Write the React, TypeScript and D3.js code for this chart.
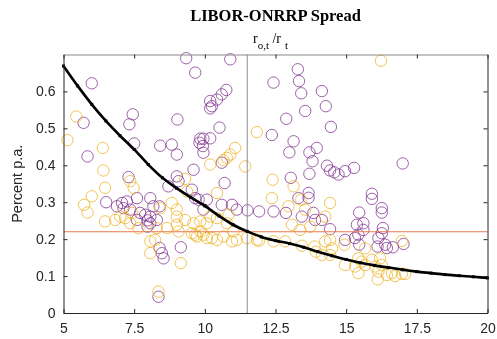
import React, { useEffect, useRef } from "react";
import * as d3 from "d3";

// purple series (x = r_o,t / r_t, y = spread in percent p.a.)
const purpleX = [
  6.0, 7.45, 7.33, 5.71, 7.5, 8.42, 8.83, 5.85, 7.3, 9.34, 10.9, 9.66, 10.76, 10.6,
  10.43, 10.19, 10.25, 10.19, 9.03, 10.52, 9.84, 9.95, 10.19, 9.81, 9.93, 9.95, 9.01,
  10.6, 9.6, 9.01, 12.43, 12.37, 13.29, 13.33, 13.41, 14.14, 14.28, 13.55, 12.88,
  14.46, 13.14, 12.99, 13.7, 13.96, 13.81, 14.32, 14.43, 14.58, 14.73, 14.96, 15.28,
  13.7, 13.04, 17.0, 15.91, 15.91, 16.26, 16.26, 16.3, 16.26, 16.14, 16.11, 16.38,
  16.44, 16.65, 17.03, 13.31, 13.67, 13.67, 11.92, 12.43, 12.87, 13.43, 13.84, 13.9,
  14.14, 14.43, 15.46, 15.38, 15.61, 15.61, 15.43, 14.96, 15.31, 15.46, 9.07, 10.7,
  8.71, 6.51, 6.89, 7.07, 7.24, 7.6, 7.36, 7.12, 8.07, 8.18, 8.4, 7.71, 7.89, 7.6,
  7.97, 8.07, 8.3, 8.07, 7.97, 9.54, 9.66, 9.78, 10.07, 9.95, 10.6, 10.96, 11.13,
  11.51, 8.4, 8.48, 8.54, 9.15, 8.36,
];
const purpleY = [
  0.622, 0.538, 0.511, 0.515, 0.459, 0.453, 0.456, 0.424, 0.368, 0.69, 0.687, 0.651,
  0.604, 0.592, 0.578, 0.574, 0.56, 0.554, 0.524, 0.502, 0.472, 0.472, 0.473, 0.461,
  0.452, 0.434, 0.429, 0.407, 0.388, 0.37, 0.624, 0.482, 0.66, 0.628, 0.595, 0.601,
  0.56, 0.547, 0.526, 0.504, 0.465, 0.435, 0.435, 0.447, 0.411, 0.399, 0.386, 0.381,
  0.375, 0.384, 0.393, 0.377, 0.366, 0.405, 0.323, 0.309, 0.284, 0.272, 0.23, 0.216,
  0.203, 0.18, 0.185, 0.176, 0.178, 0.187, 0.311, 0.325, 0.312, 0.275, 0.275, 0.271,
  0.261, 0.271, 0.252, 0.252, 0.227, 0.272, 0.239, 0.243, 0.225, 0.212, 0.198, 0.203,
  0.185, 0.357, 0.352, 0.343, 0.3, 0.289, 0.298, 0.302, 0.311, 0.28, 0.284, 0.311,
  0.289, 0.289, 0.271, 0.266, 0.252, 0.251, 0.261, 0.252, 0.243, 0.234, 0.334, 0.311,
  0.307, 0.307, 0.28, 0.293, 0.293, 0.28, 0.278, 0.176, 0.162, 0.148, 0.178, 0.044,
];

// orange series
const orangeX = [
  5.45, 5.14, 6.39, 6.41, 6.47, 7.36, 7.48, 6.0, 5.73, 5.85, 6.47, 6.83, 7.01, 7.18,
  7.42, 7.36, 8.42, 8.3, 7.65, 8.66, 8.83, 9.01, 9.01, 9.3, 9.07, 9.37, 10.19, 10.43,
  11.43, 9.54, 9.66, 9.72, 9.95, 10.07, 9.84, 9.6, 9.84, 10.07, 10.19, 10.43, 10.84,
  10.78, 11.01, 10.66, 10.96, 11.13, 10.25, 10.43, 11.49, 11.84, 8.07, 8.24, 8.07,
  9.15, 8.36, 11.84, 16.23, 11.07, 10.9, 10.78, 10.66, 9.3, 12.4, 13.14, 12.37, 12.96,
  13.41, 13.55, 14.43, 14.26, 13.08, 13.37, 13.73, 11.92, 12.43, 12.84, 13.43, 13.88,
  13.93, 14.14, 14.26, 14.43, 14.5, 14.43, 14.94, 14.96, 15.32, 15.43, 15.55, 15.67,
  15.43, 15.91, 16.03, 16.2, 16.26, 16.14, 16.12, 16.44, 16.62, 16.73, 16.97, 17.09,
  16.97, 15.67, 9.01,
];
const orangeY = [
  0.532, 0.468, 0.447, 0.386, 0.339, 0.357, 0.339, 0.316, 0.293, 0.272, 0.248, 0.252,
  0.261, 0.257, 0.271, 0.243, 0.284, 0.23, 0.23, 0.23, 0.298, 0.261, 0.239, 0.252,
  0.221, 0.329, 0.402, 0.325, 0.397, 0.216, 0.212, 0.207, 0.212, 0.203, 0.221, 0.243,
  0.248, 0.243, 0.261, 0.257, 0.266, 0.243, 0.221, 0.207, 0.194, 0.198, 0.203, 0.198,
  0.203, 0.198, 0.194, 0.198, 0.162, 0.135, 0.058, 0.49, 0.683, 0.447, 0.429, 0.42,
  0.414, 0.363, 0.361, 0.343, 0.311, 0.289, 0.307, 0.28, 0.298, 0.261, 0.239, 0.225,
  0.234, 0.196, 0.194, 0.194, 0.182, 0.18, 0.166, 0.157, 0.194, 0.198, 0.175, 0.157,
  0.185, 0.13, 0.126, 0.148, 0.139, 0.13, 0.108, 0.144, 0.126, 0.148, 0.13, 0.112,
  0.091, 0.103, 0.108, 0.1, 0.106, 0.106, 0.195, 0.175, 0.28,
];

// fitted curve (black line)
const curveX = [
  5, 5.5, 6, 6.5, 7, 7.5, 8, 8.5, 9, 9.5, 10, 10.5, 11, 11.5, 12, 12.5, 13, 13.5, 14,
  14.5, 15, 15.5, 16, 16.5, 17, 17.5, 18, 18.5, 19, 19.5, 20,
];
const curveY = [
  0.669, 0.615, 0.565, 0.52, 0.48, 0.443, 0.402, 0.366, 0.338, 0.313, 0.29, 0.263,
  0.239, 0.221, 0.206, 0.196, 0.188, 0.178, 0.166, 0.155, 0.145, 0.136, 0.129, 0.123,
  0.117, 0.112, 0.108, 0.104, 0.101, 0.098, 0.095,
];

const xTicks = [5, 7.5, 10, 12.5, 15, 17.5, 20];
const yTicks = [0, 0.1, 0.2, 0.3, 0.4, 0.5, 0.6];
const vLineX = 11.5;
const hLineY = 0.22;

const W = 497;
const H = 339;
const margin = { left: 63.5, right: 9.5, top: 54.5, bottom: 26 };

export default function App() {
  const svgRef = useRef<SVGSVGElement>(null);

  useEffect(() => {
    if (!svgRef.current) return;
    const svg = d3.select(svgRef.current);
    svg.selectAll("*").remove();

    const innerW = W - margin.left - margin.right;
    const innerH = H - margin.top - margin.bottom;

    const x = d3.scaleLinear().domain([5, 20]).range([0, innerW]);
    const y = d3.scaleLinear().domain([0, 0.7]).range([innerH, 0]);

    const g = svg
      .append("g")
      .attr("transform", `translate(${margin.left},${margin.top})`);

    const axisColor = "#262626";
    const font = "'Liberation Sans', Arial, sans-serif";

    // scatter: purple then orange
    const purple = purpleX.map((v, i) => ({ x: v, y: purpleY[i] }));
    const orange = orangeX.map((v, i) => ({ x: v, y: orangeY[i] }));

    g.selectAll(".p")
      .data(purple)
      .enter()
      .append("circle")
      .attr("cx", (d) => x(d.x))
      .attr("cy", (d) => y(d.y))
      .attr("r", 5.7)
      .attr("fill", "none")
      .attr("stroke", "#7E2F8E")
      .attr("stroke-opacity", 0.75)
      .attr("stroke-width", 1);

    g.selectAll(".o")
      .data(orange)
      .enter()
      .append("circle")
      .attr("cx", (d) => x(d.x))
      .attr("cy", (d) => y(d.y))
      .attr("r", 5.7)
      .attr("fill", "none")
      .attr("stroke", "#EDB120")
      .attr("stroke-opacity", 0.75)
      .attr("stroke-width", 1);

    // reference lines
    g.append("line")
      .attr("x1", x(vLineX))
      .attr("x2", x(vLineX))
      .attr("y1", 0)
      .attr("y2", innerH)
      .attr("stroke", "#8c8c8c")
      .attr("stroke-width", 1);

    g.append("line")
      .attr("x1", 0)
      .attr("x2", innerW)
      .attr("y1", y(hLineY))
      .attr("y2", y(hLineY))
      .attr("stroke", "#E67A4E")
      .attr("stroke-width", 1.2);

    // curve
    const curve = curveX.map((v, i) => ({ x: v, y: curveY[i] }));
    const line = d3
      .line<{ x: number; y: number }>()
      .x((d) => x(d.x))
      .y((d) => y(d.y))
      .curve(d3.curveMonotoneX);

    g.append("path")
      .datum(curve)
      .attr("fill", "none")
      .attr("stroke", "#000")
      .attr("stroke-width", 2.6)
      .attr("d", line);

    g.selectAll(".m")
      .data(curve)
      .enter()
      .append("rect")
      .attr("x", (d) => x(d.x) - 1.5)
      .attr("y", (d) => y(d.y) - 1.5)
      .attr("width", 3)
      .attr("height", 3)
      .attr("fill", "#000");

    // axes with inward ticks, boxed
    const bottom = g
      .append("g")
      .attr("transform", `translate(0,${innerH})`)
      .call(
        d3
          .axisBottom(x)
          .tickValues(xTicks)
          .tickSizeInner(-4)
          .tickSizeOuter(0)
          .tickPadding(10)
          .tickFormat((d) => String(d))
      );
    const left = g.append("g").call(
      d3
        .axisLeft(y)
        .tickValues(yTicks)
        .tickSizeInner(-4)
        .tickSizeOuter(0)
        .tickPadding(8)
        .tickFormat((d) => String(d))
    );
    const top = g.append("g").call(
      d3.axisTop(x).tickValues(xTicks).tickSizeInner(-4).tickSizeOuter(0).tickFormat(() => "")
    );
    const right = g
      .append("g")
      .attr("transform", `translate(${innerW},0)`)
      .call(
        d3.axisRight(y).tickValues(yTicks).tickSizeInner(-4).tickSizeOuter(0).tickFormat(() => "")
      );

    [bottom, left, top, right].forEach((a) => {
      a.select(".domain").attr("stroke", axisColor);
      a.selectAll(".tick line").attr("stroke", axisColor);
      a.selectAll("text")
        .attr("fill", axisColor)
        .style("font-family", font)
        .style("font-size", "14px");
    });
    top.select(".domain").attr("stroke", "#8a8a8a");

    // y label
    svg
      .append("text")
      .attr("transform", `translate(22,${margin.top + innerH / 2}) rotate(-90)`)
      .attr("text-anchor", "middle")
      .style("font-family", font)
      .style("font-size", "14.5px")
      .attr("fill", axisColor)
      .text("Percent p.a.");

    // title
    svg
      .append("text")
      .attr("x", margin.left + innerW / 2)
      .attr("y", 21)
      .attr("text-anchor", "middle")
      .style("font-family", "'Liberation Serif', 'Times New Roman', serif")
      .style("font-weight", "bold")
      .style("font-size", "16.5px")
      .attr("fill", "#000")
      .text("LIBOR-ONRRP Spread");

    // subtitle r_{o,t} / r _t
    const sub = svg
      .append("text")
      .attr("x", 253)
      .attr("y", 43)
      .style("font-family", "'Liberation Serif', 'Times New Roman', serif")
      .style("font-size", "14px")
      .attr("fill", "#000");
    sub.append("tspan").text("r");
    sub.append("tspan").attr("dy", 6).style("font-size", "11px").text("o,t");
    sub.append("tspan").attr("dy", -6).text(" /r");
    sub.append("tspan").attr("dx", 4).attr("dy", 6).style("font-size", "11px").text("t");
  }, []);

  return (
    <div style={{ position: "fixed", left: 0, top: 0 }}>
      <svg ref={svgRef} width={W} height={H} style={{ display: "block" }} />
    </div>
  );
}
